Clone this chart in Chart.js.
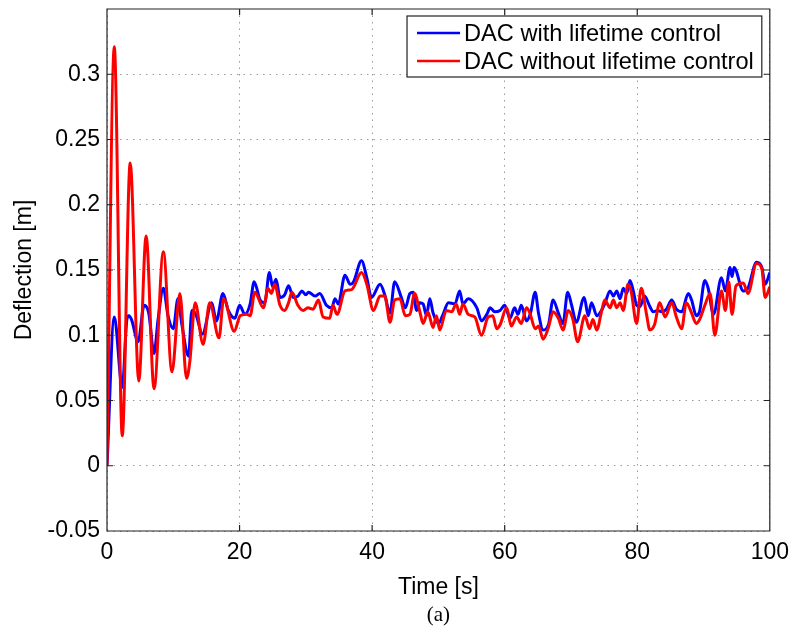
<!DOCTYPE html>
<html>
<head>
<meta charset="utf-8">
<title>Deflection</title>
<script src="https://cdn.jsdelivr.net/npm/chart.js@4.4.1/dist/chart.umd.min.js"></script>
<style>
  body { margin: 0; background: #fff; }
  #wrap { width: 797px; height: 635px; }
</style>
</head>
<body>
<div id="wrap"><canvas id="deflectionchart" width="797" height="635"></canvas></div>
<script>
"use strict";

/* values */
var blueTime = [0, 1.1, 2.3, 3.0, 3.3, 3.7, 4.7, 5.6, 6.3, 7.1, 7.7, 8.5, 9.2, 10.0, 10.7, 11.3, 12.3, 12.8, 13.4, 14.4,
    15.8, 16.5, 17.5, 18.3, 19.3, 20.0, 20.8, 21.6, 22.2, 23.1, 23.8, 24.5, 25.0, 25.5, 26.1, 26.8, 27.4, 28.1, 28.8, 29.4,
    30.0, 30.4, 31.4, 32.1, 33.1, 33.9, 34.4, 34.9, 35.9, 36.7, 37.2, 38.4, 39.2, 39.9, 41.2, 41.9, 42.7, 43.4, 44.4, 45.0,
    45.7, 46.2, 46.7, 47.2, 47.7, 48.2, 48.7, 49.2, 50.0, 50.7, 51.5, 52.5, 53.2, 53.7, 54.5, 55.8, 56.5, 57.3, 57.8, 58.5,
    59.3, 60.0, 60.8, 61.5, 62.0, 62.5, 63.3, 63.9, 64.6, 65.1, 65.8, 66.6, 67.3, 68.1, 68.8, 69.5, 70.1, 70.8, 72.0, 72.6,
    73.1, 73.9, 74.6, 75.1, 75.9, 76.4, 76.9, 77.4, 77.9, 78.4, 78.9, 79.4, 79.9, 80.4, 81.1, 81.9, 82.4, 83.1, 83.7, 84.4,
    85.2, 85.9, 86.7, 87.7, 88.2, 88.9, 89.4, 90.2, 90.7, 91.5, 92.7, 93.3, 94.0, 94.3, 94.6, 96.0, 96.7, 98.0, 98.8, 99.3, 100];
var blueValues = [0, 0.114, 0.060, 0.112, 0.115, 0.112, 0.095, 0.123, 0.117, 0.086, 0.112, 0.136, 0.115, 0.105, 0.128, 0.108, 0.084, 0.119, 0.116, 0.101,
    0.125, 0.111, 0.132, 0.119, 0.113, 0.123, 0.116, 0.124, 0.141, 0.127, 0.125, 0.148, 0.137, 0.143, 0.129, 0.131, 0.138, 0.129, 0.130, 0.134,
    0.131, 0.133, 0.130, 0.132, 0.123, 0.121, 0.128, 0.124, 0.146, 0.139, 0.141, 0.157, 0.144, 0.129, 0.139, 0.131, 0.117, 0.141, 0.129, 0.121,
    0.132, 0.133, 0.119, 0.125, 0.124, 0.115, 0.128, 0.117, 0.109, 0.116, 0.125, 0.124, 0.134, 0.124, 0.128, 0.121, 0.111, 0.116, 0.121, 0.118,
    0.119, 0.123, 0.113, 0.121, 0.116, 0.123, 0.111, 0.117, 0.133, 0.117, 0.104, 0.108, 0.127, 0.117, 0.109, 0.133, 0.123, 0.110, 0.129, 0.115,
    0.125, 0.115, 0.119, 0.124, 0.134, 0.130, 0.134, 0.128, 0.136, 0.132, 0.142, 0.134, 0.123, 0.122, 0.130, 0.122, 0.118, 0.119, 0.118, 0.120,
    0.127, 0.120, 0.118, 0.132, 0.127, 0.115, 0.118, 0.142, 0.136, 0.116, 0.144, 0.134, 0.152, 0.145, 0.152, 0.134, 0.136, 0.156, 0.152, 0.139, 0.148];

var redTime = [0, 1.1, 2.3, 3.5, 4.8, 5.9, 7.1, 8.5, 9.8, 11.0, 12.0, 12.5, 13.3, 14.5, 15.5, 16.9, 17.6, 19.2, 20.1, 21.1,
    21.6, 22.3, 23.6, 24.3, 24.8, 25.3, 26.1, 26.8, 27.4, 27.9, 28.8, 29.6, 30.3, 31.1, 31.9, 32.6, 33.6, 34.1, 34.7, 35.9,
    36.9, 38.4, 39.2, 40.2, 41.2, 41.9, 42.7, 43.4, 44.2, 45.0, 45.7, 46.4, 47.2, 47.7, 48.4, 49.2, 49.7, 50.2, 51.2, 52.0,
    52.7, 53.2, 53.7, 54.5, 55.5, 56.5, 57.5, 58.2, 58.8, 59.3, 60.3, 61.0, 61.8, 62.5, 63.3, 63.8, 64.6, 65.1, 65.8, 66.6,
    67.3, 68.1, 68.8, 69.6, 70.3, 71.0, 72.1, 72.8, 73.3, 73.9, 74.6, 75.1, 75.9, 76.4, 76.9, 77.4, 77.9, 78.6, 79.1, 79.9,
    80.6, 81.4, 81.9, 82.6, 83.4, 84.2, 85.2, 85.9, 86.7, 87.4, 88.2, 88.9, 89.4, 90.2, 91.0, 91.7, 92.7, 93.3, 93.8, 94.3,
    94.9, 96.0, 96.7, 98.0, 98.8, 99.3, 100];
var redValues = [0, 0.321, 0.023, 0.232, 0.065, 0.176, 0.059, 0.164, 0.072, 0.132, 0.067, 0.080, 0.125, 0.093, 0.125, 0.098, 0.128, 0.103, 0.115, 0.116,
    0.115, 0.133, 0.121, 0.136, 0.132, 0.139, 0.123, 0.119, 0.125, 0.133, 0.123, 0.119, 0.121, 0.120, 0.127, 0.114, 0.113, 0.123, 0.116, 0.134,
    0.135, 0.148, 0.139, 0.119, 0.130, 0.130, 0.110, 0.127, 0.128, 0.115, 0.116, 0.132, 0.118, 0.109, 0.118, 0.106, 0.115, 0.104, 0.119, 0.118,
    0.124, 0.116, 0.124, 0.116, 0.114, 0.100, 0.114, 0.115, 0.105, 0.108, 0.121, 0.107, 0.114, 0.109, 0.121, 0.117, 0.105, 0.107, 0.097, 0.106,
    0.118, 0.113, 0.104, 0.119, 0.112, 0.095, 0.115, 0.105, 0.112, 0.104, 0.118, 0.127, 0.121, 0.127, 0.121, 0.125, 0.119, 0.139, 0.133, 0.109,
    0.136, 0.116, 0.104, 0.108, 0.125, 0.114, 0.125, 0.114, 0.105, 0.125, 0.117, 0.109, 0.112, 0.123, 0.132, 0.100, 0.134, 0.119, 0.141, 0.116,
    0.138, 0.140, 0.132, 0.155, 0.151, 0.129, 0.137];

var seriesLabels = ['DAC with lifetime control', 'DAC without lifetime control'];
var xTicks = [0, 20, 40, 60, 80, 100];
var yTicks = [-0.05, 0, 0.05, 0.1, 0.15, 0.2, 0.25, 0.3];
var caption = '(a)';

var fontFamily = "'Liberation Sans', Arial, Helvetica, sans-serif";

function toPoints(times, values) {
    return times.map(function (t, i) { return { x: t, y: values[i] }; });
}

/* box, inward ticks, legend and caption, drawn like the matlab axes */
var matlabAxes = {
    id: 'matlabAxes',
    afterDraw: function (chart) {
        var ctx = chart.ctx;
        var a = chart.chartArea;
        var xs = chart.scales.x;
        var ys = chart.scales.y;
        ctx.save();
        ctx.strokeStyle = '#222';
        ctx.lineWidth = 1.2;
        ctx.beginPath();
        ctx.rect(a.left, a.top, a.right - a.left, a.bottom - a.top);
        xTicks.forEach(function (v) {
            var px = xs.getPixelForValue(v);
            ctx.moveTo(px, a.bottom); ctx.lineTo(px, a.bottom - 6);
            ctx.moveTo(px, a.top); ctx.lineTo(px, a.top + 6);
        });
        yTicks.forEach(function (v) {
            var py = ys.getPixelForValue(v);
            ctx.moveTo(a.left, py); ctx.lineTo(a.left + 6, py);
            ctx.moveTo(a.right, py); ctx.lineTo(a.right - 6, py);
        });
        ctx.stroke();

        /* legend */
        ctx.font = '23.6px ' + fontFamily;
        var textW = 0;
        chart.data.datasets.forEach(function (ds) {
            textW = Math.max(textW, ctx.measureText(ds.label).width);
        });
        var right = a.right - 8;
        var top = a.top + 7;
        var left = right - textW - 65;
        var height = 61;
        ctx.fillStyle = '#fff';
        ctx.fillRect(left, top, right - left, height);
        ctx.lineWidth = 1.2;
        ctx.strokeStyle = '#222';
        ctx.strokeRect(left, top, right - left, height);
        ctx.textBaseline = 'middle';
        ctx.textAlign = 'left';
        chart.data.datasets.forEach(function (ds, i) {
            var y = top + 17 + i * 28;
            ctx.strokeStyle = ds.borderColor;
            ctx.lineWidth = 2.5;
            ctx.beginPath();
            ctx.moveTo(left + 10, y);
            ctx.lineTo(left + 53, y);
            ctx.stroke();
            ctx.fillStyle = '#000';
            ctx.fillText(ds.label, left + 57, y + 1);
        });

        /* figure caption under the axis title */
        ctx.font = "21px 'Liberation Serif', 'DejaVu Serif', serif";
        ctx.textAlign = 'center';
        ctx.fillStyle = '#000';
        ctx.fillText(caption, (a.left + a.right) / 2, 615);
        ctx.restore();
    }
};

var chartCtx = document.getElementById('deflectionchart').getContext('2d');
var deflectionChart = new Chart(chartCtx, {
    type: 'line',
    data: {
        datasets: [{
            label: seriesLabels[0],
            data: toPoints(blueTime, blueValues),
            borderColor: '#0000ff',
            borderWidth: 3,
            pointRadius: 0,
            tension: 0.3,
            cubicInterpolationMode: 'monotone',
            fill: false,
            order: 1
        }, {
            label: seriesLabels[1],
            data: toPoints(redTime, redValues),
            borderColor: '#ff0000',
            borderWidth: 3,
            pointRadius: 0,
            tension: 0.3,
            cubicInterpolationMode: 'monotone',
            fill: false,
            order: 0
        }]
    },
    options: {
        responsive: false,
        animation: false,
        layout: {
            padding: { top: 9, right: 27, left: 0, bottom: 30 }
        },
        plugins: {
            legend: { display: false },
            tooltip: { enabled: false }
        },
        scales: {
            x: {
                type: 'linear',
                min: 0,
                max: 100,
                afterFit: function (scale) { scale.height = 74; },
                afterBuildTicks: function (scale) {
                    scale.ticks = xTicks.map(function (v) { return { value: v }; });
                },
                ticks: {
                    color: '#000',
                    padding: 8,
                    maxRotation: 0,
                    font: { family: fontFamily, size: 23 }
                },
                grid: { color: '#9a9a9a', lineWidth: 1, drawTicks: false },
                border: { display: false, dash: [1.5, 5] },
                title: {
                    display: true,
                    text: 'Time [s]',
                    color: '#000',
                    font: { family: fontFamily, size: 23 },
                    padding: { top: 0, bottom: 4 }
                }
            },
            y: {
                type: 'linear',
                min: -0.05,
                max: 0.35,
                afterFit: function (scale) {
                    scale.width = 107;
                    scale.paddingTop = 0;
                    scale.paddingBottom = 0;
                },
                afterBuildTicks: function (scale) {
                    scale.ticks = yTicks.map(function (v) { return { value: v }; });
                },
                ticks: {
                    color: '#000',
                    padding: 7,
                    font: { family: fontFamily, size: 23 },
                    callback: function (v) { return String(Number(v.toFixed(2))); }
                },
                grid: { color: '#9a9a9a', lineWidth: 1, drawTicks: false },
                border: { display: false, dash: [1.5, 5] },
                title: {
                    display: true,
                    text: 'Deflection [m]',
                    color: '#000',
                    font: { family: fontFamily, size: 23 },
                    padding: { top: 11, bottom: 0 }
                }
            }
        }
    },
    plugins: [matlabAxes]
});
</script>
</body>
</html>
